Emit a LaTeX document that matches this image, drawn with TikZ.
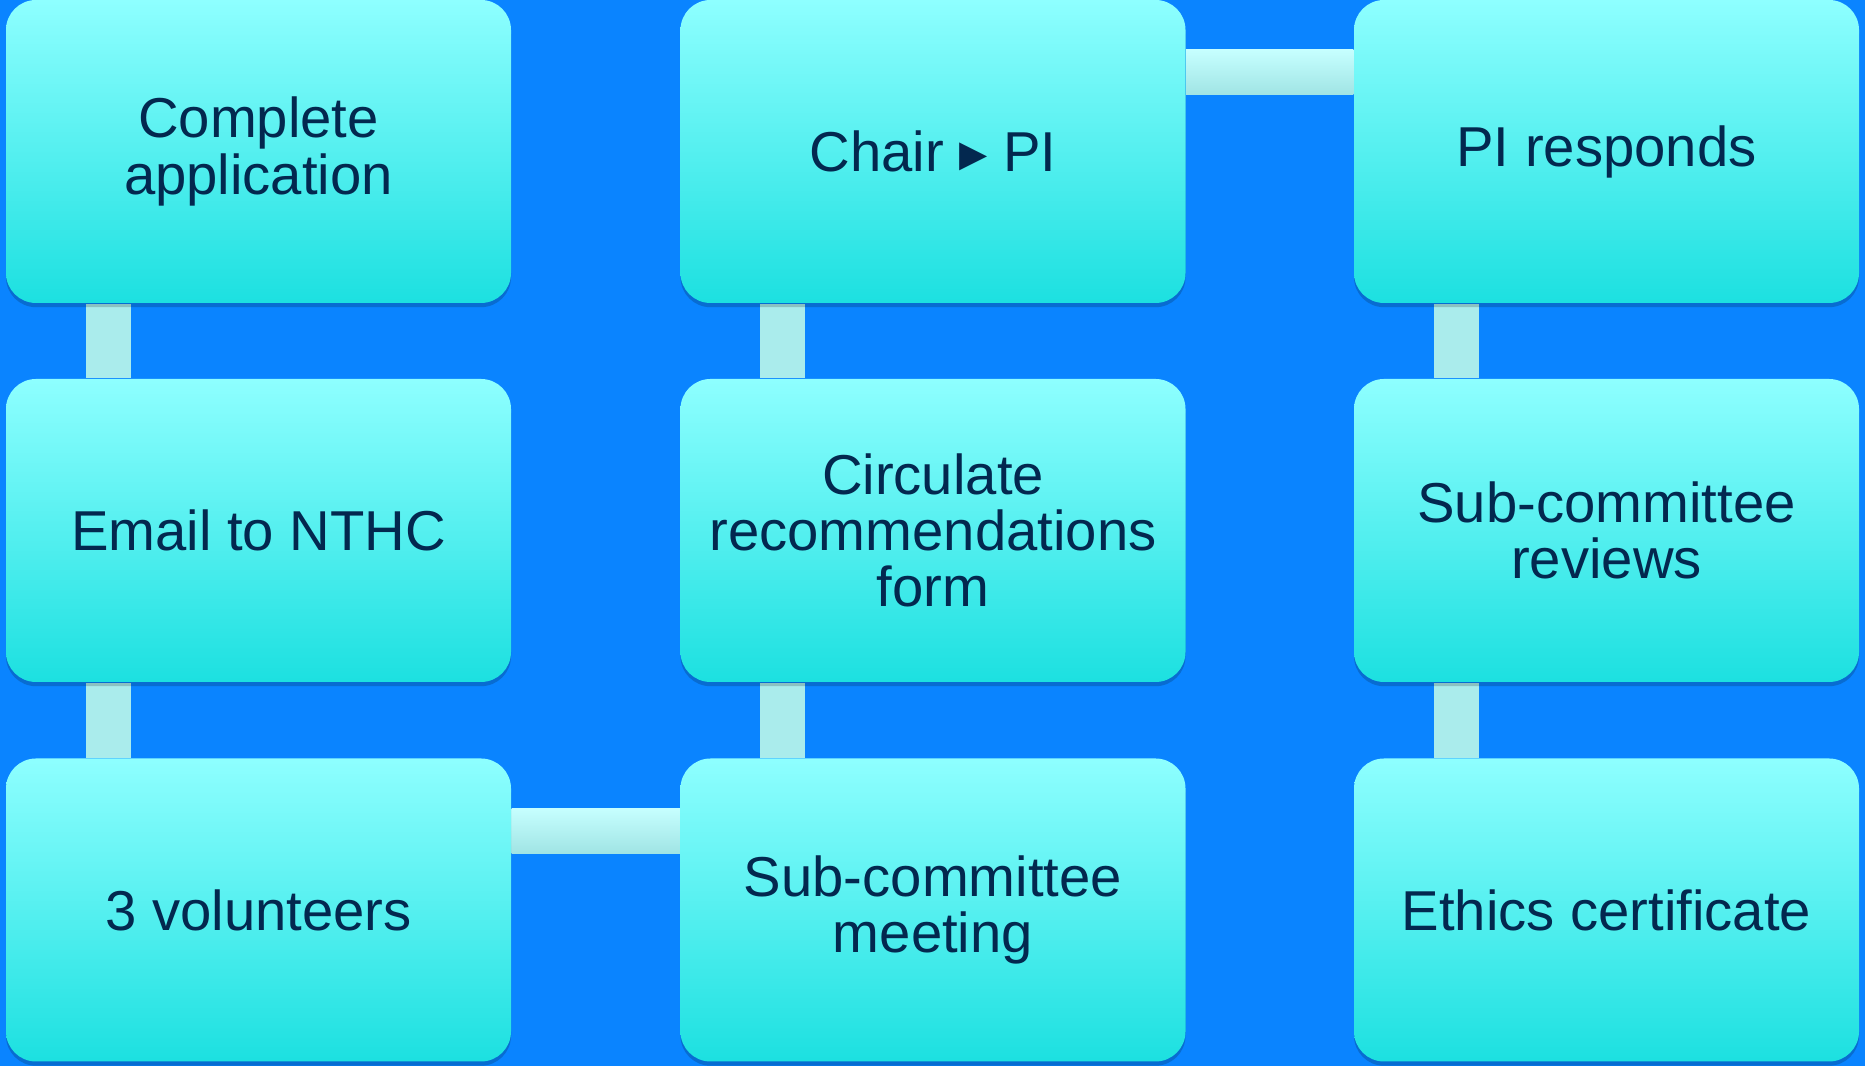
\documentclass[tikz,border=0pt]{standalone}
\usepackage{fontspec}
\setmainfont{Liberation Sans}
\newfontfamily\symfont{DejaVu Sans}
\usetikzlibrary{shadows,backgrounds}

\definecolor{bgblue}{HTML}{0A84FF}
\definecolor{boxtop}{HTML}{8EFFFF}
\definecolor{boxmid}{HTML}{6CF4F4}
\definecolor{boxbot}{HTML}{1CE0E0}
\definecolor{bartop}{HTML}{C6FFFF}
\definecolor{barbot}{HTML}{A0E4E4}
\definecolor{barside}{HTML}{AAECEC}
\definecolor{navy}{HTML}{03284F}

\begin{document}
\begin{tikzpicture}[
  stepbox/.style={rounded corners=3mm, minimum width=5.05cm, minimum height=3.03cm,
    inner sep=0pt, align=center, top color=boxtop, middle color=boxmid, bottom color=boxbot,
    text=navy, font=\fontsize{16}{16}\selectfont,
    drop shadow={shadow xshift=0pt, shadow yshift=-1.2pt, opacity=0.18, fill=black}},
  hbar/.style={top color=bartop, bottom color=barbot},
  vbar/.style={fill=barside}]
\useasboundingbox (0,0) rectangle (18.65,10.66);

\node[stepbox] (a) at (2.585,9.145) {Complete\\application};
\node[stepbox] (b) at (2.585,5.355) {Email to NTHC};
\node[stepbox] (c) at (2.585,1.56) {3 volunteers};
\node[stepbox] (d) at (9.33,1.56) {Sub-committee\\meeting};
\node[stepbox] (e) at (9.33,5.355) {Circulate\\recommendations\\form};
\node[stepbox] (f) at (9.33,9.145) {Chair {\symfont ▸} PI};
\node[stepbox] (g) at (16.065,9.145) {PI responds};
\node[stepbox] (h) at (16.065,5.355) {Sub-committee\\reviews};
\node[stepbox] (i) at (16.065,1.56) {Ethics certificate};

\begin{scope}[on background layer]
\fill[bgblue] (0,0) rectangle (18.65,10.66);
\path[vbar] ([xshift=-1.73cm]a.south) rectangle ([xshift=-1.28cm]b.north);
\path[vbar] ([xshift=-1.73cm]b.south) rectangle ([xshift=-1.28cm]c.north);
\path[hbar] ([yshift=0.565cm]c.east) rectangle ([yshift=1.015cm]d.west);
\path[vbar] ([xshift=-1.73cm]d.north) rectangle ([xshift=-1.28cm]e.south);
\path[vbar] ([xshift=-1.73cm]e.north) rectangle ([xshift=-1.28cm]f.south);
\path[hbar] ([yshift=0.565cm]f.east) rectangle ([yshift=1.015cm]g.west);
\path[vbar] ([xshift=-1.73cm]g.south) rectangle ([xshift=-1.28cm]h.north);
\path[vbar] ([xshift=-1.73cm]h.south) rectangle ([xshift=-1.28cm]i.north);
\end{scope}
\end{tikzpicture}
\end{document}
